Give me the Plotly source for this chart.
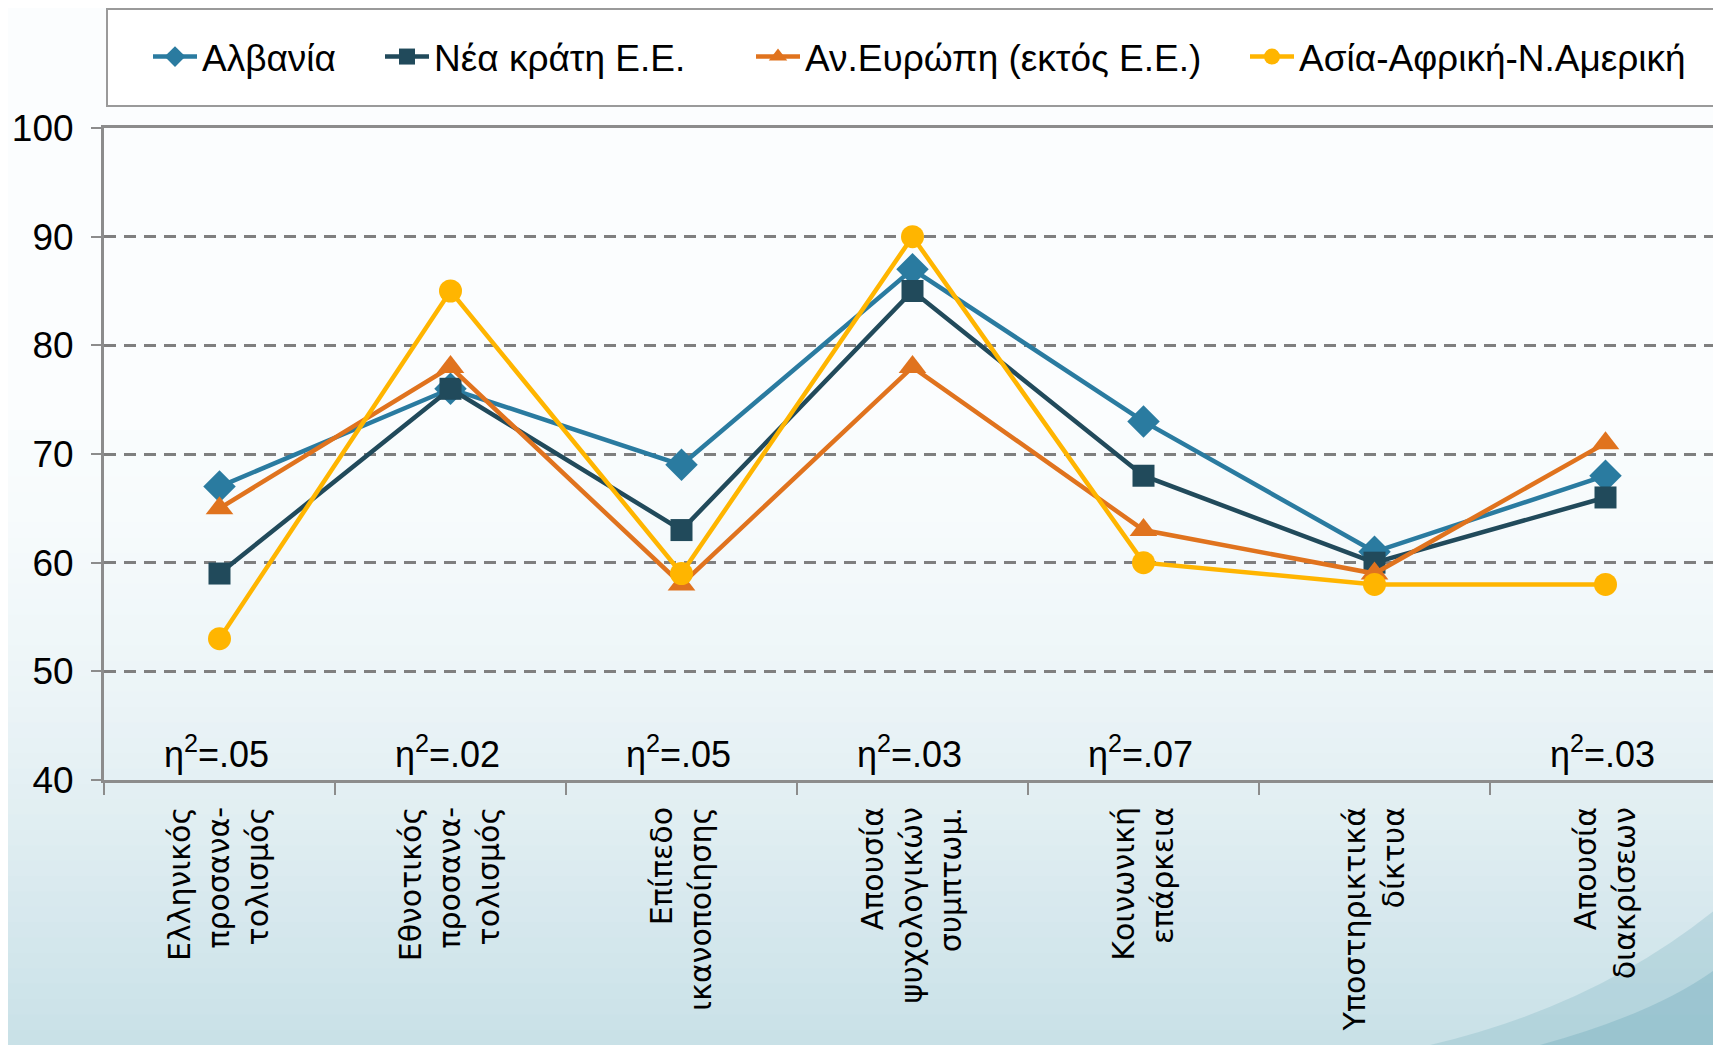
import plotly.graph_objects as go

W, H = 1721, 1045
OFF = 8                           # body margin of the html page
PL, PT, PB = 104, 128, 780        # plot area in page pixels (right edge = page edge)

CATEGORIES = [
    "Ελληνικός<br>προσανα-<br>τολισμός",
    "Εθνοτικός<br>προσανα-<br>τολισμός",
    "Επίπεδο<br>ικανοποίησης",
    "Απουσία<br>ψυχολογικών<br>συμπτωμ.",
    "Κοινωνική<br>επάρκεια",
    "Υποστηρικτικά<br>δίκτυα",
    "Απουσία<br>διακρίσεων",
]

ALBANIA   = [67, 76, 69, 87, 73, 61, 68]
NEW_EU    = [59, 76, 63, 85, 68, 60, 66]
EAST_EUR  = [65, 78, 58, 78, 63, 59, 71]
ASIA_AFR  = [53, 85, 59, 90, 60, 58, 58]

ETA_LABELS = ["η<sup>2</sup>=.05", "η<sup>2</sup>=.02", "η<sup>2</sup>=.05",
              "η<sup>2</sup>=.03", "η<sup>2</sup>=.07", "", "η<sup>2</sup>=.03"]

SERIES = [
    ("Αλβανία", ALBANIA, "#2A7BA0", "diamond", 25, 148),
    ("Νέα κράτη Ε.Ε.", NEW_EU, "#214A5B", "square", 22, 380),
    ("Αν.Ευρώπη (εκτός Ε.Ε.)", EAST_EUR, "#E0731E", "triangle-up", 24, 751),
    ("Ασία-Αφρική-Ν.Αμερική", ASIA_AFR, "#FFB500", "circle", 23, 1245),
]

_GRIDC = "#7F7F7F"
_AXISC = "#8C8C8C"
_FONT = "Liberation Sans, Arial, sans-serif"

fw, fh = W - OFF, H - OFF
ml, mt = PL - OFF, PT - OFF
mb = fh - (PB - OFF)
pw = fw - ml
ph = fh - mt - mb


def px(x, y):
    return (x - PL) / pw, (PB - y) / ph


def lerp(c0, c1, t):
    return "#%02x%02x%02x" % tuple(round(a + (b - a) * t) for a, b in zip(c0, c1))


fig = go.Figure()
legends = {}
for i, (name, vals, color, sym, size, lx) in enumerate(SERIES):
    key = "legend" if i == 0 else f"legend{i + 1}"
    fig.add_trace(go.Scatter(
        x=CATEGORIES, y=vals, name=name, legend=key,
        mode="lines+markers",
        line=dict(color=color, width=4.5),
        marker=dict(symbol=sym, size=size, color=color),
    ))
    x_p, y_p = px(lx, 57)
    legends[key] = dict(orientation="h", x=x_p, y=y_p, xanchor="left", yanchor="middle",
                        bgcolor="rgba(0,0,0,0)", font=dict(size=37, family=_FONT, color="#000000"),
                        itemwidth=44, itemclick=False)

# background: soft vertical gradient towards light blue at the bottom
shapes = []
y_top, n = 430, 40
for i in range(n):
    y0 = y_top + (H - y_top) * i / n
    y1 = y_top + (H - y_top) * (i + 1) / n + 1
    t = ((i + 0.5) / n) ** 1.5
    x0p, y0p = px(0, y0)
    x1p, y1p = px(W, y1)
    shapes.append(dict(type="rect", xref="paper", yref="paper",
                       x0=x0p, x1=x1p, y0=y0p, y1=y1p, layer="below",
                       line=dict(width=0),
                       fillcolor=lerp((249, 252, 253), (200, 224, 231), t)))
# swirl in the bottom right corner
for pts, col in [
    ([(1430, 1045), (1600, 1005), (1721, 905), (1721, 1045)], "rgba(120,176,192,0.28)"),
    ([(1540, 1045), (1660, 1012), (1721, 965), (1721, 1045)], "rgba(110,168,186,0.35)"),
]:
    (a, b), (c, d), (e, f), (g, h) = [px(*p) for p in pts]
    shapes.append(dict(type="path", xref="paper", yref="paper", layer="below",
                       path=f"M {a},{b} Q {c},{d} {e},{f} L {g},{h} Z",
                       fillcolor=col, line=dict(width=0)))
# legend frame
lx0, ly0 = px(107, 9)
lx1, ly1 = px(1740, 106)
shapes.append(dict(type="rect", xref="paper", yref="paper",
                   x0=lx0, x1=lx1, y0=ly1, y1=ly0,
                   fillcolor="rgba(255,255,255,0.9)", line=dict(color="#9A9A9A", width=2)))

annotations = [
    dict(x=c, y=40, xref="x", yref="y", text=t, showarrow=False,
         yanchor="bottom", yshift=3, xshift=-3,
         font=dict(family="Liberation Sans Narrow, Arial Narrow, Liberation Sans", size=36, color="#000000"))
    for c, t in zip(CATEGORIES, ETA_LABELS) if t
]

fig.update_layout(
    width=fw, height=fh,
    margin=dict(l=ml, r=0, t=mt, b=mb, autoexpand=False),
    paper_bgcolor="#FBFDFE",
    plot_bgcolor="rgba(0,0,0,0)",
    font=dict(family=_FONT, color="#000000", size=36),
    shapes=shapes,
    annotations=annotations,
    showlegend=True,
    xaxis=dict(
        type="category", range=[-0.5, 6.5],
        tickson="boundaries", ticks="outside", ticklen=12, tickwidth=2, tickcolor=_AXISC,
        showline=True, linecolor=_AXISC, linewidth=3, mirror=True,
        showgrid=False, tickangle=-90, ticklabelstandoff=12,
        tickfont=dict(family="DejaVu Sans, Verdana, sans-serif", size=30, color="#000000"),
    ),
    yaxis=dict(
        range=[40, 100], dtick=10, ticks="outside", ticklen=10, tickwidth=2, tickcolor=_AXISC,
        showline=True, linecolor=_AXISC, linewidth=3,
        showgrid=True, gridcolor=_GRIDC, gridwidth=2.5, griddash="12px,8px",
        zeroline=False, ticklabelstandoff=10,
        tickfont=dict(size=37, color="#000000"),
    ),
    **legends,
)

fig.write_html("out.html")
